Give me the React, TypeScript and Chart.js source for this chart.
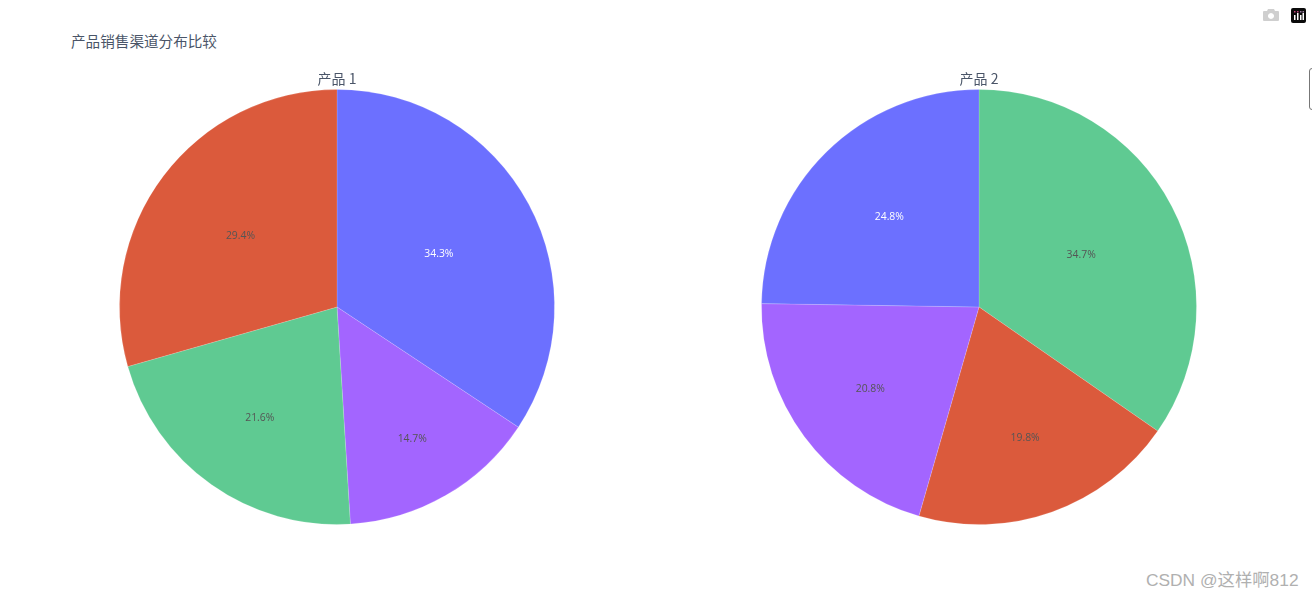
import React, { useEffect, useRef } from "react";
import { Chart, registerables } from "chart.js";

Chart.register(...registerables);

const chartTitle = "产品销售渠道分布比较";
const watermark = "CSDN @这样啊812";
const channels = ["渠道 1", "渠道 2", "渠道 3", "渠道 4"];
const product1Title = "产品 1";
const product1Values = [35, 15, 22, 30];
const product2Title = "产品 2";
const product2Channels = ["渠道 3", "渠道 4", "渠道 2", "渠道 1"];
const product2Values = [35, 20, 21, 25];

const BLUE = "#6c70ff";
const RED = "#db5a3c";
const GREEN = "#5fca92";
const PURPLE = "#a365ff";
const product1Colors = [BLUE, PURPLE, GREEN, RED];
const product2Colors = [GREEN, RED, PURPLE, BLUE];

const FONT = '"Noto Sans CJK SC", "Noto Sans", sans-serif';

// Places percentages the way the original does: on the slice bisector, centred in
// the largest circle that fits inside the slice.
const insideLabels = {
  id: "insideLabels",
  afterDatasetsDraw(chart: any) {
    const { ctx } = chart;
    const meta = chart.getDatasetMeta(0);
    const values: number[] = chart.data.datasets[0].data;
    const total = values.reduce((a, b) => a + b, 0);
    ctx.save();
    ctx.font = '10.4px "Open Sans", sans-serif';
    ctx.textAlign = "center";
    ctx.textBaseline = "middle";
    meta.data.forEach((arc: any, i: number) => {
      const { startAngle, endAngle, outerRadius, x, y } = arc;
      const half = (endAngle - startAngle) / 2;
      const mid = startAngle + half;
      const s = Math.sin(Math.min(half, Math.PI / 2));
      const frac = 1 / (1 + 1 / s);
      const rc = outerRadius * (1 - frac);
      const color = chart.data.datasets[0].backgroundColor[i];
      ctx.fillStyle = color === BLUE ? "#ffffff" : "#555555";
      ctx.fillText(
        ((values[i] / total) * 100).toFixed(1) + "%",
        x + rc * Math.cos(mid),
        y + rc * Math.sin(mid) + 1.5
      );
    });
    ctx.restore();
  },
};

function Pie(props: { title: string; labels: string[]; values: number[]; colors: string[]; left: number }) {
  const ref = useRef<HTMLCanvasElement>(null);
  useEffect(() => {
    const chart = new Chart(ref.current!, {
      type: "pie",
      data: {
        labels: props.labels,
        datasets: [
          {
            data: props.values,
            backgroundColor: props.colors,
            borderColor: "rgba(255,255,255,0.3)",
            borderWidth: 0.5,
          },
        ],
      },
      options: {
        responsive: false,
        animation: false,
        radius: 217.5,
        rotation: 0,
        layout: { padding: 0 },
        plugins: {
          legend: { display: false },
          tooltip: { enabled: false },
          title: {
            display: true,
            text: props.title,
            color: "#4a5568",
            padding: { top: 2, bottom: 0 },
            font: { family: FONT, size: 14, weight: "normal", lineHeight: "18px" },
          },
        },
      } as any,
      plugins: [insideLabels],
    });
    return () => chart.destroy();
  }, []);
  return (
    <canvas
      ref={ref}
      width={560}
      height={458}
      style={{ position: "absolute", left: props.left, top: 68, width: 560, height: 458 }}
    />
  );
}

export default function App() {
  return (
    <div style={{ position: "fixed", inset: 0, overflow: "hidden", background: "#fff" }}>
      <div
        style={{
          position: "absolute",
          left: 71,
          top: 30,
          fontFamily: FONT,
          fontSize: 14.6,
          lineHeight: "22px",
          color: "#4a5568",
          whiteSpace: "nowrap",
        }}
      >
        {chartTitle}
      </div>
      <Pie title={product1Title} labels={channels} values={product1Values} colors={product1Colors} left={57} />
      <Pie title={product2Title} labels={product2Channels} values={product2Values} colors={product2Colors} left={699} />

      <svg style={{ position: "absolute", left: 1263, top: 8 }} width={16} height={14} viewBox="0 0 16 14">
        <path
          fill="#cfcfcf"
          fillRule="evenodd"
          d="M5 1 L11 1 L12 3 L15 3 Q16 3 16 4 L16 12 Q16 13 15 13 L1 13 Q0 13 0 12 L0 4 Q0 3 1 3 L4 3 Z M8 5 A3 3 0 1 0 8.01 5 Z"
        />
      </svg>
      <svg style={{ position: "absolute", left: 1291, top: 8 }} width={15} height={15} viewBox="0 0 15 15">
        <rect width={15} height={15} rx={2} fill="#0b0b0b" />
        <rect x={3} y={3} width={1.5} height={1.5} fill="#c2467e" />
        <rect x={6} y={3} width={1.5} height={1.5} fill="#c2467e" />
        <rect x={9} y={3} width={1.5} height={1.5} fill="#9a7ea0" />
        <rect x={11.5} y={3} width={1.5} height={1.5} fill="#9a7ea0" />
        <rect x={3} y={7} width={1.5} height={5} fill="#fff" />
        <rect x={6} y={5} width={1.5} height={7} fill="#fff" />
        <rect x={9} y={7} width={1.5} height={5} fill="#fff" />
        <rect x={11.5} y={5} width={1.5} height={7} fill="#fff" />
      </svg>
      <div
        style={{
          position: "absolute",
          left: 1309,
          top: 68,
          width: 10,
          height: 42,
          boxSizing: "border-box",
          border: "1.5px solid #777",
          borderRadius: 3,
          background: "#fff",
        }}
      />
      <div
        style={{
          position: "absolute",
          left: 1146,
          top: 568,
          fontFamily: '"Liberation Sans", "Noto Sans CJK SC", sans-serif',
          fontSize: 17.35,
          lineHeight: "24px",
          color: "#b0b0b0",
          whiteSpace: "nowrap",
        }}
      >
        {watermark}
      </div>
    </div>
  );
}
